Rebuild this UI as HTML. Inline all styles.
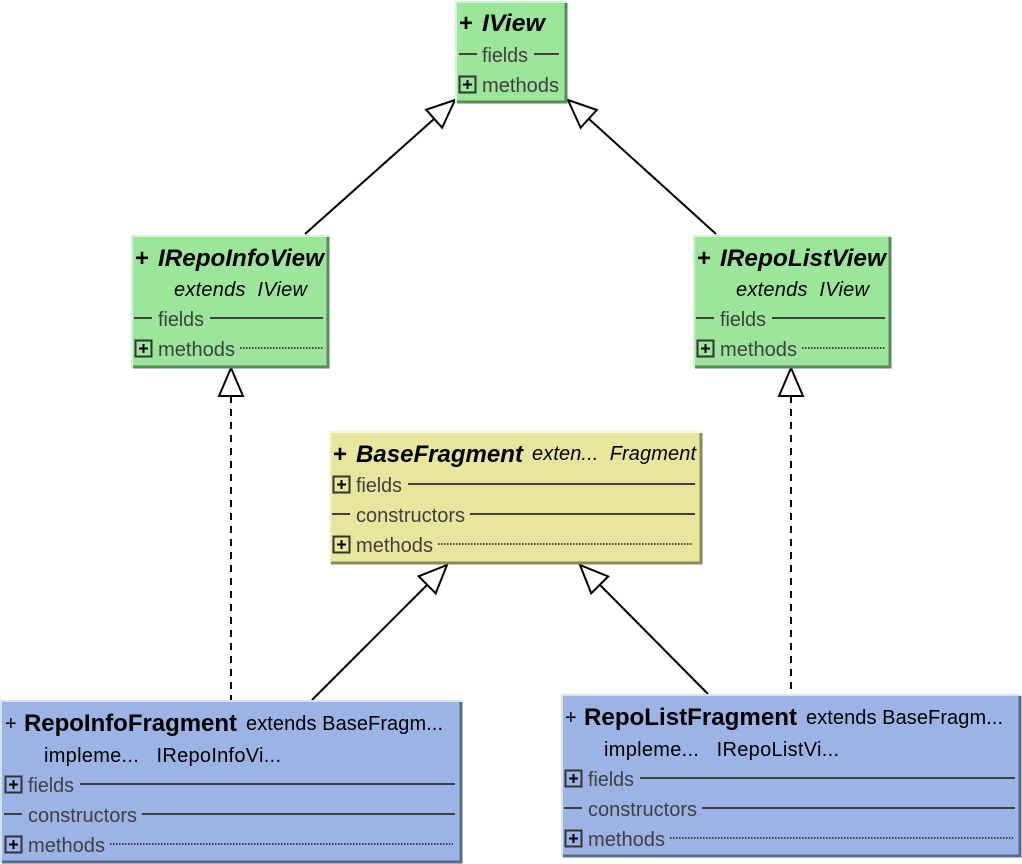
<!DOCTYPE html>
<html><head><meta charset="utf-8"><style>
html,body{margin:0;padding:0;background:#fff;}
svg{display:block;}
text{font-family:"Liberation Sans",Arial,sans-serif;}
.r{font-size:20px;fill:#404040;}
.t{font-size:24px;font-weight:bold;fill:#000;}
.ti{font-size:24px;font-weight:bold;font-style:italic;fill:#000;}
.e{font-size:20px;font-style:italic;fill:#000;}
.n{font-size:20px;fill:#000;}
.ln{stroke:#404040;stroke-width:2;}
.dt{stroke:#404040;stroke-width:2;stroke-dasharray:1.5 1.5;}
</style></head><body>
<svg width="1022" height="864" viewBox="0 0 1022 864" xmlns="http://www.w3.org/2000/svg">
<defs>
<g id="plus"><rect x="0.5" y="-15.5" width="16" height="16" fill="none" stroke="#333" stroke-width="2"/><path d="M4 -7.5h9M8.5 -12v9" stroke="#000" stroke-width="2"/></g>
</defs>
<g stroke="#000" stroke-width="2" fill="#fff">
<line x1="305" y1="234" x2="434" y2="119"/>
<polygon points="455,100 442.1,127.7 426.1,109.7"/>
<line x1="716" y1="234" x2="589" y2="119"/>
<polygon points="568,100 596.8,109.9 580.6,127.7"/>
<line x1="231" y1="396" x2="231" y2="700" stroke-dasharray="7 6"/>
<polygon points="231,368 219,396 243,396"/>
<line x1="791" y1="396" x2="791" y2="694" stroke-dasharray="7 6"/>
<polygon points="791,368 779,396 803,396"/>
<line x1="312" y1="700" x2="427" y2="585"/>
<polygon points="447,565 435.7,593.3 418.7,576.3"/>
<line x1="708" y1="694" x2="600" y2="585"/>
<polygon points="580,565 608.2,576.5 591.2,593.3"/>
</g>

<!-- IView -->
<rect x="456" y="2" width="111" height="101" fill="#9ce69c"/>
<path d="M456 103V2H567" stroke="#d4f5d4" stroke-width="2" fill="none"/>
<path d="M457 102H566V3" stroke="#5a8a5a" stroke-width="3" fill="none"/>
<text x="459" y="31" class="t">+</text><text x="482" y="31" class="ti" textLength="63" lengthAdjust="spacingAndGlyphs">IView</text>
<line x1="459" y1="54" x2="477" y2="54" class="ln"/><text x="482" y="62" class="r" textLength="46" lengthAdjust="spacingAndGlyphs">fields</text><line x1="534" y1="54" x2="559" y2="54" class="ln"/>
<use href="#plus" x="459" y="92"/><text x="482" y="92" class="r" textLength="77" lengthAdjust="spacingAndGlyphs">methods</text>

<!-- IRepoInfoView -->
<rect x="132" y="236" width="197" height="132" fill="#9ce69c"/>
<path d="M132 368V236H329" stroke="#d4f5d4" stroke-width="2" fill="none"/>
<path d="M133 367H328V237" stroke="#5a8a5a" stroke-width="3" fill="none"/>
<text x="135" y="266" class="t">+</text><text x="158" y="266" class="ti" textLength="166" lengthAdjust="spacingAndGlyphs">IRepoInfoView</text>
<text x="174" y="296" class="e" textLength="133" lengthAdjust="spacing">extends&#160;&#160;IView</text>
<line x1="134" y1="318" x2="152" y2="318" class="ln"/><text x="158" y="326" class="r" textLength="46" lengthAdjust="spacingAndGlyphs">fields</text><line x1="210" y1="318" x2="323" y2="318" class="ln"/>
<use href="#plus" x="135" y="356"/><text x="158" y="356" class="r" textLength="77" lengthAdjust="spacingAndGlyphs">methods</text><line x1="240" y1="348" x2="323" y2="348" class="dt"/>

<!-- IRepoListView -->
<rect x="694" y="236" width="197" height="132" fill="#9ce69c"/>
<path d="M694 368V236H891" stroke="#d4f5d4" stroke-width="2" fill="none"/>
<path d="M695 367H890V237" stroke="#5a8a5a" stroke-width="3" fill="none"/>
<text x="697" y="266" class="t">+</text><text x="720" y="266" class="ti" textLength="166" lengthAdjust="spacingAndGlyphs">IRepoListView</text>
<text x="736" y="296" class="e" textLength="133" lengthAdjust="spacing">extends&#160;&#160;IView</text>
<line x1="696" y1="318" x2="714" y2="318" class="ln"/><text x="720" y="326" class="r" textLength="46" lengthAdjust="spacingAndGlyphs">fields</text><line x1="772" y1="318" x2="885" y2="318" class="ln"/>
<use href="#plus" x="697" y="356"/><text x="720" y="356" class="r" textLength="77" lengthAdjust="spacingAndGlyphs">methods</text><line x1="802" y1="348" x2="885" y2="348" class="dt"/>

<!-- BaseFragment -->
<rect x="330" y="432" width="372" height="132" fill="#e8e69c"/>
<path d="M330 564V432H702" stroke="#f7f6d6" stroke-width="2" fill="none"/>
<path d="M331 563H701V433" stroke="#8a8a5a" stroke-width="3" fill="none"/>
<text x="333" y="462" class="t">+</text><text x="356" y="462" class="ti" textLength="167" lengthAdjust="spacingAndGlyphs">BaseFragment</text>
<text x="532" y="460" class="e" textLength="164" lengthAdjust="spacing">exten...&#160;&#160;Fragment</text>
<use href="#plus" x="333" y="492"/><text x="356" y="492" class="r" textLength="46" lengthAdjust="spacingAndGlyphs">fields</text><line x1="408" y1="484" x2="695" y2="484" class="ln"/>
<line x1="332" y1="514" x2="350" y2="514" class="ln"/><text x="356" y="522" class="r" textLength="109" lengthAdjust="spacingAndGlyphs">constructors</text><line x1="470" y1="514" x2="695" y2="514" class="ln"/>
<use href="#plus" x="333" y="552"/><text x="356" y="552" class="r" textLength="77" lengthAdjust="spacingAndGlyphs">methods</text><line x1="438" y1="544" x2="693" y2="544" class="dt"/>

<!-- RepoInfoFragment -->
<rect x="1" y="701" width="461" height="162" fill="#9cb3e6"/>
<path d="M1 863V701H462" stroke="#d6e0f7" stroke-width="2" fill="none"/>
<path d="M2 862H461V702" stroke="#5a6a8a" stroke-width="3" fill="none"/>
<text x="5" y="730" class="n">+</text><text x="24" y="731" class="t" textLength="213" lengthAdjust="spacingAndGlyphs">RepoInfoFragment</text>
<text x="246" y="730" class="n" textLength="197" lengthAdjust="spacing">extends&#160;BaseFragm...</text>
<text x="44" y="762" class="n" textLength="237" lengthAdjust="spacing">impleme...&#160;&#160;&#160;IRepoInfoVi...</text>
<use href="#plus" x="5" y="792"/><text x="28" y="792" class="r" textLength="46" lengthAdjust="spacingAndGlyphs">fields</text><line x1="80" y1="784" x2="455" y2="784" class="ln"/>
<line x1="4" y1="814" x2="22" y2="814" class="ln"/><text x="28" y="822" class="r" textLength="109" lengthAdjust="spacingAndGlyphs">constructors</text><line x1="142" y1="814" x2="455" y2="814" class="ln"/>
<use href="#plus" x="5" y="852"/><text x="28" y="852" class="r" textLength="77" lengthAdjust="spacingAndGlyphs">methods</text><line x1="110" y1="844" x2="453" y2="844" class="dt"/>

<!-- RepoListFragment -->
<rect x="562" y="695" width="459" height="162" fill="#9cb3e6"/>
<path d="M562 857V695H1021" stroke="#d6e0f7" stroke-width="2" fill="none"/>
<path d="M563 856H1020V696" stroke="#5a6a8a" stroke-width="3" fill="none"/>
<text x="565" y="724" class="n">+</text><text x="584" y="725" class="t" textLength="213" lengthAdjust="spacingAndGlyphs">RepoListFragment</text>
<text x="806" y="724" class="n" textLength="197" lengthAdjust="spacing">extends&#160;BaseFragm...</text>
<text x="604" y="756" class="n" textLength="235" lengthAdjust="spacing">impleme...&#160;&#160;&#160;IRepoListVi...</text>
<use href="#plus" x="565" y="786"/><text x="588" y="786" class="r" textLength="46" lengthAdjust="spacingAndGlyphs">fields</text><line x1="640" y1="778" x2="1015" y2="778" class="ln"/>
<line x1="564" y1="808" x2="582" y2="808" class="ln"/><text x="588" y="816" class="r" textLength="109" lengthAdjust="spacingAndGlyphs">constructors</text><line x1="702" y1="808" x2="1015" y2="808" class="ln"/>
<use href="#plus" x="565" y="846"/><text x="588" y="846" class="r" textLength="77" lengthAdjust="spacingAndGlyphs">methods</text><line x1="670" y1="838" x2="1013" y2="838" class="dt"/>
</svg>
</body></html>
